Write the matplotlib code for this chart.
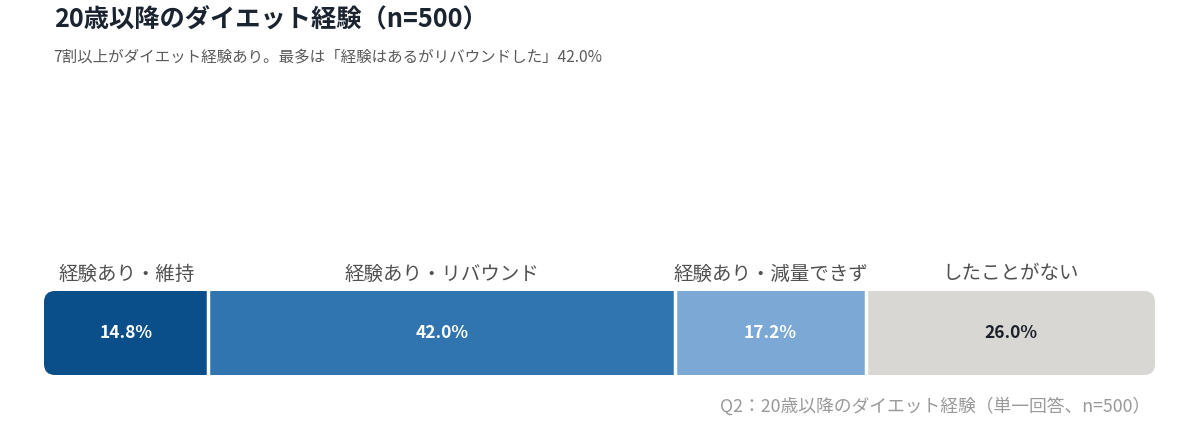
import matplotlib
matplotlib.use("Agg")
import matplotlib.pyplot as plt
from matplotlib.patches import FancyBboxPatch
import numpy as np

plt.rcParams['font.family'] = ['Noto Sans CJK JP', 'DejaVu Sans']

# datos
categorias = ["経験あり・維持", "経験あり・リバウンド", "経験あり・減量できず", "したことがない"]
valores = [14.8, 42.0, 17.2, 26.0]
colores = ["#0b4f8a", "#3175b0", "#7ba8d4", "#d9d7d3"]
color_valor = ["white", "white", "white", "#1a1f29"]

titulo = "20歳以降のダイエット経験（n=500）"
subtitulo = "7割以上がダイエット経験あり。最多は「経験はあるがリバウンドした」42.0%"
nota = "Q2：20歳以降のダイエット経験（単一回答、n=500）"

W, H = 1200, 429
fig = plt.figure(figsize=(W / 100, H / 100), dpi=100)

fig.text(54 / W, 1 - 20 / H, titulo, fontsize=18.2, fontweight='bold',
         color='#1a2330', va='center', ha='left')
fig.text(53 / W, 1 - 57 / H, subtitulo, fontsize=11.2, color='#5a5a5a',
         va='center', ha='left')
fig.text(1150 / W, 1 - 406 / H, nota, fontsize=12.8, color='#9a9a9a',
         va='center', ha='right')

# barra apilada
x0, x1 = 44, 1155
y0, y1 = 291, 375
ax = fig.add_axes([x0 / W, 1 - y1 / H, (x1 - x0) / W, (y1 - y0) / H])
ax.set_xlim(0, 100)
ax.set_ylim(0, 1)
ax.axis('off')

px_x = (x1 - x0) / 100
px_y = (y1 - y0)
radio = 11 / px_x
clip = FancyBboxPatch((0, 0), 100, 1, boxstyle=f"round,pad=0,rounding_size={radio}",
                      mutation_aspect=px_x / px_y, transform=ax.transData,
                      facecolor='none', edgecolor='none')
ax.add_patch(clip)

izq = np.concatenate([[0], np.cumsum(valores)[:-1]])
barras = ax.barh(0.5, valores, left=izq, height=1, color=colores, linewidth=0)
for b in barras:
    b.set_clip_path(clip)

# separadores blancos
for l in izq[1:]:
    ax.axvline(l, color='white', linewidth=2.5)

for cat, v, l, cv in zip(categorias, valores, izq, color_valor):
    xc = l + v / 2
    ax.text(xc, 0.5, f"{v:.1f}%", ha='center', va='center', fontsize=12.5,
            fontweight='bold', color=cv)
    ax.text(xc, 1 + 17 / px_y, cat, ha='center', va='center', fontsize=14,
            color='#505050', clip_on=False)

fig.savefig("out.png", dpi=100, facecolor='white')
